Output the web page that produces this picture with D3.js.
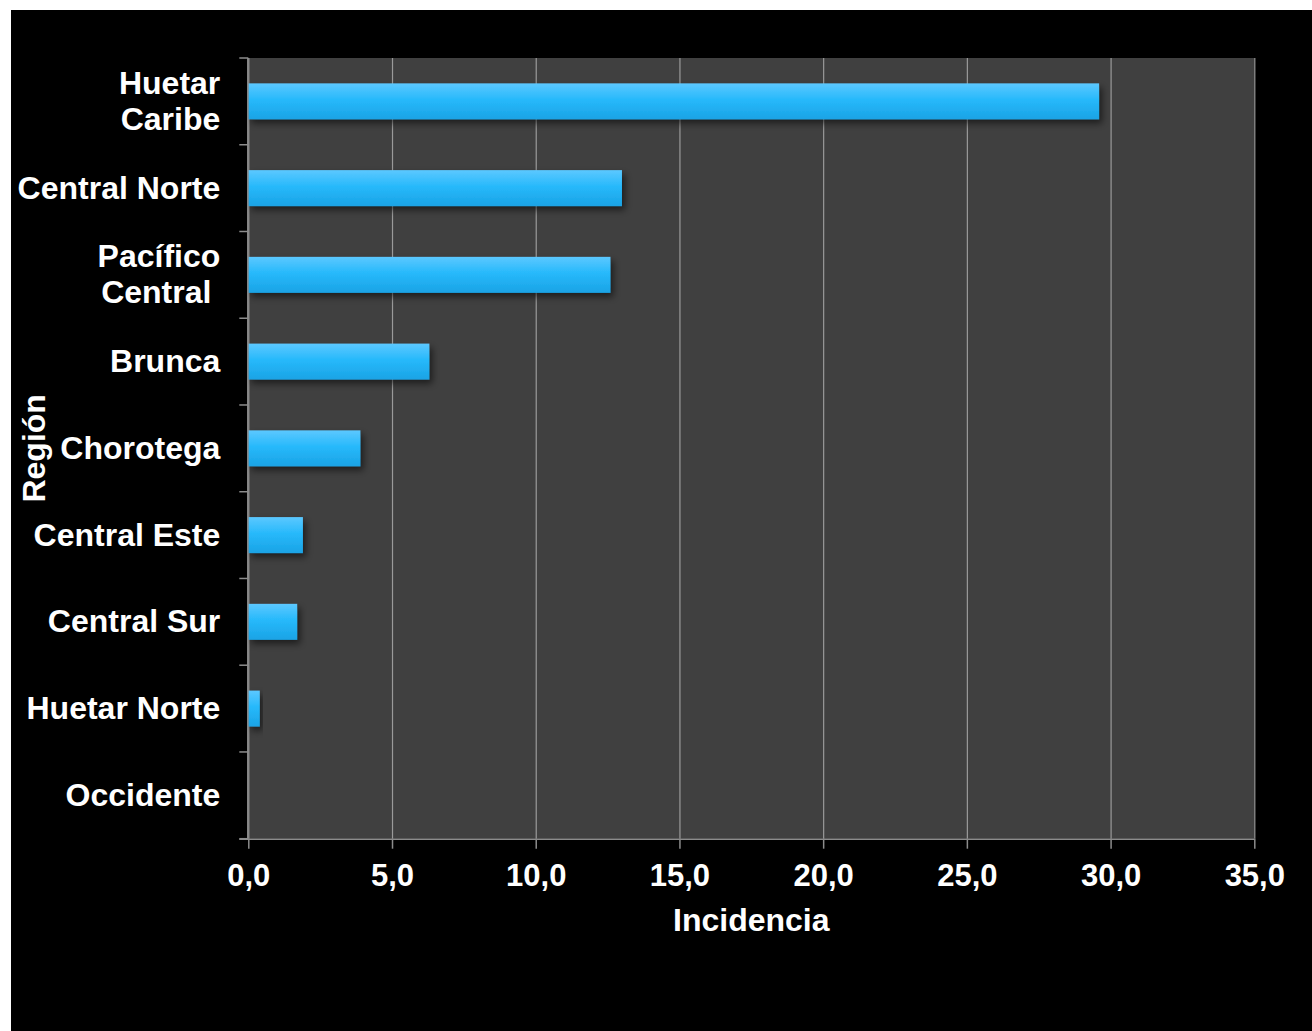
<!DOCTYPE html>
<html>
<head>
<meta charset="utf-8">
<script src="https://cdn.jsdelivr.net/npm/d3@7"></script>
<style>
  html, body { margin: 0; padding: 0; background: #ffffff; }
  svg { display: block; }
  text { font-family: "Liberation Sans", Arial, sans-serif; font-weight: bold; fill: #ffffff; }
</style>
</head>
<body>
<svg id="chart" width="1312" height="1031"></svg>
<script>
// Incidence by region
const categories = ["Huetar Caribe", "Central Norte", "Pacífico Central", "Brunca", "Chorotega",
                    "Central Este", "Central Sur", "Huetar Norte", "Occidente"];
const labelLines = [["Huetar", "Caribe"], ["Central Norte"], ["Pacífico", "Central "], ["Brunca"],
                    ["Chorotega"], ["Central Este"], ["Central Sur"], ["Huetar Norte"], ["Occidente"]];
const values = [29.6, 13.0, 12.6, 6.3, 3.9, 1.9, 1.7, 0.4, 0.0];
const xTicks = [0, 5, 10, 15, 20, 25, 30, 35];
const xTitle = "Incidencia";
const yTitle = "Región";

const svg = d3.select("#chart");
const W = 1312, H = 1031;

// black slide panel
svg.append("rect").attr("x", 11).attr("y", 10).attr("width", W - 11).attr("height", H - 10).attr("fill", "#000");

const plot = { left: 248.3, right: 1254.3, top: 58, bottom: 838.7 };

const x = d3.scaleLinear().domain([0, 35]).range([plot.left, plot.right]);
const p = 0.585;
const y = d3.scaleBand().domain(categories).range([plot.top, plot.bottom]).paddingInner(p).paddingOuter(p / 2);

const defs = svg.append("defs");
const grad = defs.append("linearGradient").attr("id", "barGrad").attr("x1", 0).attr("y1", 0).attr("x2", 0).attr("y2", 1);
grad.append("stop").attr("offset", "0%").attr("stop-color", "#5cc8ff");
grad.append("stop").attr("offset", "45%").attr("stop-color", "#27b9fb");
grad.append("stop").attr("offset", "100%").attr("stop-color", "#1aa3e5");

const shadow = defs.append("filter").attr("id", "barShadow").attr("x", "-10%").attr("y", "-30%").attr("width", "130%").attr("height", "180%");
shadow.append("feDropShadow").attr("dx", 3).attr("dy", 4).attr("stdDeviation", 3.5)
  .attr("flood-color", "#000").attr("flood-opacity", 0.55);

// plot background
svg.append("rect").attr("x", plot.left).attr("y", plot.top)
  .attr("width", plot.right - plot.left).attr("height", plot.bottom - plot.top).attr("fill", "#404040");

// vertical gridlines
svg.append("g").attr("transform", `translate(0,${plot.top})`)
  .call(d3.axisBottom(x).tickValues(xTicks).tickSize(plot.bottom - plot.top).tickFormat(""))
  .call(g => g.select(".domain").remove())
  .call(g => g.selectAll(".tick line").attr("stroke", "#9a9a9a").attr("stroke-width", 1.2));

// bars
svg.append("g").selectAll("rect").data(values).join("rect")
  .attr("x", x(0))
  .attr("y", (d, i) => y(categories[i]))
  .attr("width", d => x(d) - x(0))
  .attr("height", y.bandwidth())
  .attr("fill", "url(#barGrad)")
  .attr("filter", "url(#barShadow)");

// x axis
const xAxis = svg.append("g").attr("transform", `translate(0,${plot.bottom})`)
  .call(d3.axisBottom(x).tickValues(xTicks).tickSize(10).tickPadding(15)
    .tickFormat(d => d3.format(".1f")(d).replace(".", ",")));
xAxis.select(".domain").attr("stroke", "#8c8c8c").attr("stroke-width", 1.5)
  .attr("d", `M${plot.left - 9},0.5H${plot.right}`);
xAxis.selectAll(".tick line").attr("stroke", "#8c8c8c").attr("stroke-width", 1.5);
xAxis.selectAll(".tick text").attr("fill", "#fff").attr("font-size", 31)
  .attr("font-family", "Liberation Sans, Arial, sans-serif").attr("font-weight", "bold");

// y axis: labels centred on bands, ticks on band boundaries
const yAxis = svg.append("g").attr("transform", `translate(${plot.left},0)`)
  .call(d3.axisLeft(y).tickSize(0).tickPadding(28));
yAxis.select(".domain").attr("stroke", "#8c8c8c").attr("stroke-width", 1.5)
  .attr("d", `M-0.5,${plot.top}V${plot.bottom}`);
yAxis.selectAll(".tick text")
  .attr("fill", "#fff").attr("font-size", 32).attr("dy", null)
  .attr("font-family", "Liberation Sans, Arial, sans-serif").attr("font-weight", "bold")
  .style("white-space", "pre")
  .each(function (d) {
    const lines = labelLines[categories.indexOf(d)];
    const t = d3.select(this).text(null);
    const lh = 36;
    const start = 10.5 - (lines.length - 1) * lh / 2;
    lines.forEach((ln, k) => {
      t.append("tspan").attr("x", -28).attr("y", start + k * lh).text(ln);
    });
  });
const bounds = d3.range(categories.length + 1).map(i => plot.top + i * y.step());
yAxis.selectAll(".bound").data(bounds).join("line").attr("class", "bound")
  .attr("x1", -9).attr("x2", 0).attr("y1", d => d).attr("y2", d => d)
  .attr("stroke", "#8c8c8c").attr("stroke-width", 1.5);

// axis titles
svg.append("text").attr("x", (plot.left + plot.right) / 2).attr("y", 931)
  .attr("text-anchor", "middle").attr("font-size", 32).text(xTitle);
svg.append("text").attr("transform", `translate(45,${(plot.top + plot.bottom) / 2}) rotate(-90)`)
  .attr("text-anchor", "middle").attr("font-size", 32).text(yTitle);
</script>
</body>
</html>
